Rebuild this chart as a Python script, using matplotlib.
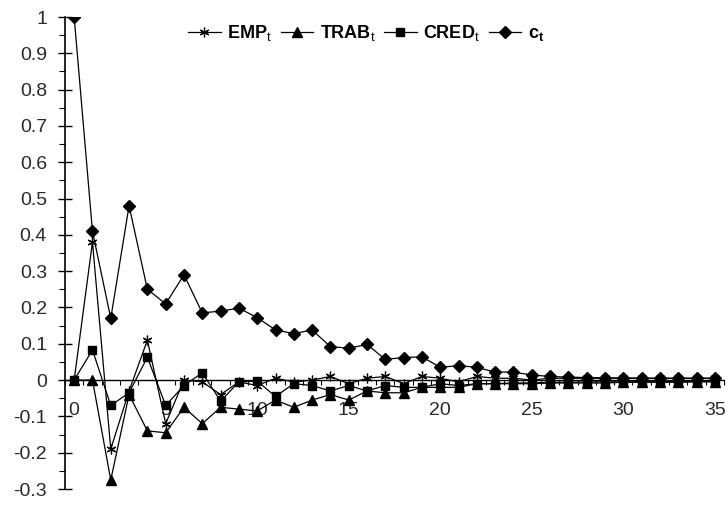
import numpy as np
import matplotlib
matplotlib.use('Agg')
from matplotlib import pyplot as plt
from matplotlib.ticker import MultipleLocator, FuncFormatter

plt.rcParams['font.family'] = ['Liberation Sans', 'DejaVu Sans']
plt.rcParams['mathtext.fontset'] = 'custom'
plt.rcParams['mathtext.rm'] = 'Liberation Sans'
plt.rcParams['mathtext.bf'] = 'Liberation Sans:bold'
plt.rcParams['axes.unicode_minus'] = False

# lags 0..35
lags = list(range(36))

emp = [0.0, 0.38, -0.19, -0.03, 0.11, -0.12, 0.0, -0.005, -0.04, -0.005,
       -0.015, 0.005, -0.005, 0.0, 0.01, -0.01, 0.005, 0.01, -0.01, 0.01,
       0.005, -0.005, 0.01, 0.005, 0.005, 0.0, 0.005, 0.005, 0.005, 0.005,
       0.005, 0.005, 0.005, 0.005, 0.005, 0.005]
trab = [0.0, 0.0, -0.275, -0.04, -0.14, -0.145, -0.075, -0.12, -0.075, -0.08,
        -0.085, -0.055, -0.075, -0.055, -0.04, -0.055, -0.03, -0.035, -0.035, -0.02,
        -0.02, -0.02, -0.01, -0.01, -0.01, -0.01, -0.008, -0.008, -0.008, -0.008,
        -0.006, -0.006, -0.006, -0.006, -0.005, -0.005]
cred = [0.0, 0.083, -0.07, -0.035, 0.063, -0.07, -0.015, 0.02, -0.058, -0.005,
        -0.003, -0.045, -0.01, -0.015, -0.03, -0.015, -0.03, -0.015, -0.02, -0.02,
        -0.01, -0.015, -0.01, -0.01, -0.008, -0.008, -0.006, -0.006, -0.005, -0.005,
        -0.005, -0.004, -0.004, -0.004, -0.003, -0.003]
ct = [1.0, 0.41, 0.17, 0.48, 0.25, 0.21, 0.29, 0.185, 0.19, 0.198,
      0.172, 0.138, 0.128, 0.138, 0.092, 0.088, 0.098, 0.057, 0.062, 0.064,
      0.035, 0.04, 0.035, 0.022, 0.022, 0.014, 0.01, 0.008, 0.007, 0.006,
      0.006, 0.005, 0.005, 0.005, 0.005, 0.005]

fig = plt.figure(figsize=(7.28, 5.05), dpi=100)
ax = fig.add_axes([65 / 728, 16 / 505, 659 / 728, 472 / 505])

kw = dict(color='black', lw=0.9)
ax.plot(lags, emp, marker=(6, 2, 0), ms=7, mew=0.9, label=r'$\mathbf{EMP}_\mathrm{t}$', **kw)
ax.plot(lags, trab, marker='^', ms=6.5, label=r'$\mathbf{TRAB}_\mathrm{t}$', **kw)
ax.plot(lags, cred, marker='s', ms=5.5, label=r'$\mathbf{CRED}_\mathrm{t}$', **kw)
ax.plot(lags, ct, marker='D', ms=6, label=r'$\mathbf{c}_\mathbf{t}$', **kw)

ax.set_xlim(-0.5, 35.5)
ax.set_ylim(-0.3, 1.0)

for s in ['top', 'right']:
    ax.spines[s].set_visible(False)
ax.spines['bottom'].set_position(('data', 0))
ax.spines['left'].set_linewidth(1.2)
ax.spines['bottom'].set_linewidth(1.0)

ax.set_xticks(range(0, 36, 5))
ax.set_xticks(np.arange(-0.5, 35.6, 1), minor=True)
ax.tick_params(axis='x', which='major', length=0, pad=16, labelsize=14)
ax.tick_params(axis='x', which='minor', direction='out', length=3.5, width=0.8)

ax.yaxis.set_major_locator(MultipleLocator(0.1))
ax.yaxis.set_minor_locator(MultipleLocator(0.05))
ax.yaxis.set_major_formatter(FuncFormatter(lambda v, p: '%g' % round(v, 2)))
ax.tick_params(axis='y', which='major', direction='inout', length=10, width=1.0,
               pad=8, labelsize=14, labelcolor='#2a2a2a')
ax.tick_params(axis='y', which='minor', direction='out', length=4, width=0.8)
ax.tick_params(axis='x', labelcolor='#2a2a2a')

ax.legend(loc='center', bbox_to_anchor=(366 / 728, 1 - 33 / 505),
          bbox_transform=fig.transFigure, ncol=4, frameon=False,
          fontsize=13, handlelength=1.8, handletextpad=0.35, columnspacing=0.5,
          borderpad=0)

fig.savefig('out.png', dpi=100)
